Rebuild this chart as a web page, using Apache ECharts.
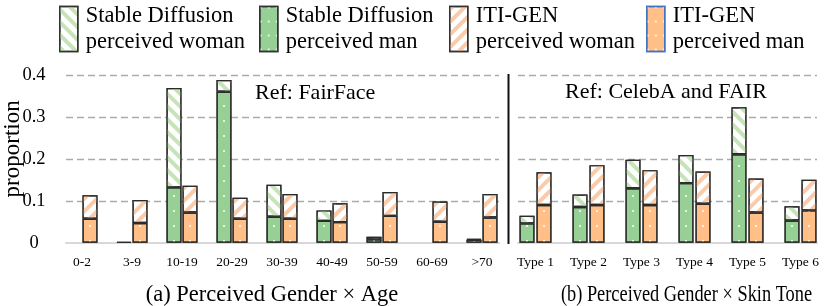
<!DOCTYPE html>
<html>
<head>
<meta charset="utf-8">
<script src="https://cdn.jsdelivr.net/npm/echarts@6/dist/echarts.min.js"></script>
<style>
  html, body { margin: 0; padding: 0; background: #fff; }
  #chart { width: 831px; height: 306px; }
</style>
</head>
<body>
<div id="chart"></div>
<script>
// ---------- data ----------
const ageCats = ['0-2', '3-9', '10-19', '20-29', '30-39', '40-49', '50-59', '60-69', '>70'];
const sdManAge    = [null, 0.002, 0.132, 0.360, 0.062, 0.052, 0.008, null, 0.007];
const sdWomanAge  = [null, null,  0.237, 0.028, 0.076, 0.025, 0.006, null, 0.002];
const itiManAge   = [0.057, 0.047, 0.072, 0.057, 0.057, 0.049, 0.064, 0.050, 0.060];
const itiWomanAge = [0.056, 0.055, 0.064, 0.050, 0.059, 0.045, 0.057, 0.048, 0.056];

const skinCats = ['Type 1', 'Type 2', 'Type 3', 'Type 4', 'Type 5', 'Type 6'];
const sdManSkin    = [0.046, 0.085, 0.130, 0.142, 0.211, 0.053];
const sdWomanSkin  = [0.018, 0.030, 0.068, 0.067, 0.112, 0.034];
const itiManSkin   = [0.090, 0.090, 0.090, 0.093, 0.072, 0.077];
const itiWomanSkin = [0.078, 0.095, 0.083, 0.077, 0.081, 0.073];

const yTicks = [0, 0.1, 0.2, 0.3, 0.4];
const seriesNames = [
  'Stable Diffusion\nperceived woman',
  'Stable Diffusion\nperceived man',
  'ITI-GEN\nperceived woman',
  'ITI-GEN\nperceived man'
];
const panelTexts = ['Ref: FairFace', 'Ref: CelebA and FAIR'];
const captions = ['(a) Perceived Gender \u00d7 Age', '(b) Perceived Gender \u00d7 Skin Tone'];

// ---------- styles ----------
const FONT = '"Liberation Serif", "Times New Roman", serif';
const GREEN = '#97D095';
const ORANGE = '#FFBF87';
const GREEN_STRIPE = '#C7E3B8';
const ORANGE_STRIPE = '#F9CBAA';
const BORDER = '#2b2b2b';

const stripeDecal = (color, rot) => ({
  symbol: 'rect', symbolSize: 1, color: color,
  dashArrayX: [1, 0], dashArrayY: [4, 5], rotation: rot
});
const dotsLeft  = { symbol: 'circle', symbolSize: 1, color: '#ffffff', dashArrayX: [0, 23, 2, 14, 2, 9], dashArrayY: [2, 13] };
const dotsRight = { symbol: 'circle', symbolSize: 1, color: '#ffffff', dashArrayX: [0, 13, 2, 34, 2, 2], dashArrayY: [2, 13] };
const dotsLegend = { symbol: 'circle', symbolSize: 1, color: '#ffffff', dashArrayX: [2, 6], dashArrayY: [2, 12] };

const GREEN_ROT = Math.PI / 4;
const ORANGE_ROT = -Math.PI / 4;

function makeSeries(axisIdx, sdMan, sdWoman, itiMan, itiWoman, dots, gap) {
  const common = { type: 'bar', xAxisIndex: axisIdx, yAxisIndex: axisIdx, barWidth: 15, barGap: gap, animation: false };
  const bs = (c) => ({ color: c, borderColor: BORDER, borderWidth: 1.2 });
  return [
    Object.assign({}, common, { name: seriesNames[1], stack: 'sd' + axisIdx, data: sdMan,
      itemStyle: Object.assign(bs(GREEN), { decal: dots }) }),
    Object.assign({}, common, { name: seriesNames[0], stack: 'sd' + axisIdx, data: sdWoman,
      itemStyle: Object.assign(bs('#ffffff'), { decal: stripeDecal(GREEN_STRIPE, GREEN_ROT) }) }),
    Object.assign({}, common, { name: seriesNames[3], stack: 'iti' + axisIdx, data: itiMan,
      itemStyle: Object.assign(bs(ORANGE), { decal: dots }) }),
    Object.assign({}, common, { name: seriesNames[2], stack: 'iti' + axisIdx, data: itiWoman,
      itemStyle: Object.assign(bs('#ffffff'), { decal: stripeDecal(ORANGE_STRIPE, ORANGE_ROT) }) })
  ];
}

const TOP = 75, H = 167.7;

const legendCommon = {
  orient: 'horizontal', itemWidth: 18, itemHeight: 45, padding: 0, top: 3,
  selectedMode: false, icon: 'rect',
  textStyle: { fontFamily: FONT, fontSize: 22.5, lineHeight: 26, color: '#000', padding: [0, 0, 0, 3] }
};
const legendItems = [
  { left: 59, name: seriesNames[0], itemStyle: { color: '#ffffff', borderColor: '#333', borderWidth: 1.5, decal: stripeDecal(GREEN_STRIPE, GREEN_ROT) } },
  { left: 259, name: seriesNames[1], itemStyle: { color: GREEN, borderColor: '#333', borderWidth: 1.5, decal: dotsLegend } },
  { left: 449, name: seriesNames[2], itemStyle: { color: '#ffffff', borderColor: '#333', borderWidth: 1.5, decal: stripeDecal(ORANGE_STRIPE, ORANGE_ROT) } },
  { left: 646, name: seriesNames[3], itemStyle: { color: ORANGE, borderColor: '#4472C4', borderWidth: 1.5, decal: dotsLegend } }
];

const gridAxisY = (showLabels) => ({
  type: 'value', min: 0, max: 0.4, interval: 0.1,
  axisLine: { show: false }, axisTick: { show: false },
  splitLine: { show: true, showMinLine: false, lineStyle: { color: '#ababab', type: [7, 4], width: 1.3 } },
  axisLabel: { show: showLabels, color: '#000', align: 'right', margin: 20,
    formatter: (v) => { const t = yTicks.find(x => Math.abs(x - v) < 1e-9); return '{c|' + String(t) + '}'; },
    rich: { c: { width: 24, align: 'center', fontFamily: FONT, fontSize: 18.5, color: '#000' } } },
  name: showLabels ? 'proportion' : '', nameLocation: 'middle', nameGap: 42, nameRotate: 90, nameMoveOverlap: false,
  nameTextStyle: { fontFamily: FONT, fontSize: 23, color: '#000', padding: [0, 0, 0, 20] }
});
const gridAxisX = (gi) => ({
  type: 'value', gridIndex: gi, min: 0, max: 1,
  axisLine: { show: true, onZero: false, lineStyle: { color: '#d9d9d9', width: 2 } },
  axisTick: { show: false }, axisLabel: { show: false }, splitLine: { show: false }
});
const barAxisX = (gi, cats) => ({
  type: 'category', gridIndex: gi, data: cats,
  axisLine: { show: false }, axisTick: { show: false }, splitLine: { show: false },
  axisLabel: { interval: 0, fontFamily: FONT, fontSize: 13.5, color: '#000', margin: 13 }
});
const barAxisY = (gi) => ({ type: 'value', gridIndex: gi, min: 0, max: 0.4, show: false, splitLine: { show: false } });

const gridCommon = { top: TOP, height: H, containLabel: false, outerBoundsMode: 'none' };

const option = {
  backgroundColor: '#ffffff',
  animation: false,
  legend: legendItems.map(it => Object.assign({}, legendCommon, {
    left: it.left, data: [{ name: it.name, itemStyle: it.itemStyle }]
  })),
  grid: [
    Object.assign({ left: 66, width: 433 }, gridCommon),
    Object.assign({ left: 518, width: 299 }, gridCommon),
    Object.assign({ left: 57, width: 450 }, gridCommon),
    Object.assign({ left: 509, width: 318 }, gridCommon)
  ],
  xAxis: [gridAxisX(0), gridAxisX(1), barAxisX(2, ageCats), barAxisX(3, skinCats)],
  yAxis: [
    Object.assign(gridAxisY(true), { gridIndex: 0 }),
    Object.assign(gridAxisY(false), { gridIndex: 1 }),
    barAxisY(2), barAxisY(3)
  ],
  series: [
    ...makeSeries(2, sdManAge, sdWomanAge, itiManAge, itiWomanAge, dotsLeft, '6.67%'),
    ...makeSeries(3, sdManSkin, sdWomanSkin, itiManSkin, itiWomanSkin, dotsRight, '13.3%')
  ],
  graphic: [
    { type: 'line', shape: { x1: 508.5, y1: 74, x2: 508.5, y2: 244 }, style: { stroke: '#111', lineWidth: 2 } },
    { type: 'text', x: 255, y: 93, style: { text: panelTexts[0], font: '22px ' + FONT, fill: '#000',
      align: 'left', verticalAlign: 'middle', textAlign: 'left', textVerticalAlign: 'middle' } },
    { type: 'text', x: 565, y: 92, style: { text: panelTexts[1], font: '22px ' + FONT, fill: '#000',
      align: 'left', verticalAlign: 'middle', textAlign: 'left', textVerticalAlign: 'middle' } },
    { type: 'text', x: 272, y: 295, style: { text: captions[0], font: '22.5px ' + FONT, fill: '#000',
      align: 'center', verticalAlign: 'middle', textAlign: 'center', textVerticalAlign: 'middle' } },
    { type: 'text', x: 686.5, y: 295, scaleX: 0.816, style: { text: captions[1], font: '22.5px ' + FONT, fill: '#000',
      align: 'center', verticalAlign: 'middle', textAlign: 'center', textVerticalAlign: 'middle' } }
  ]
};

const chart = echarts.init(document.getElementById('chart'), null, { renderer: 'canvas' });
chart.setOption(option);
</script>
</body>
</html>
